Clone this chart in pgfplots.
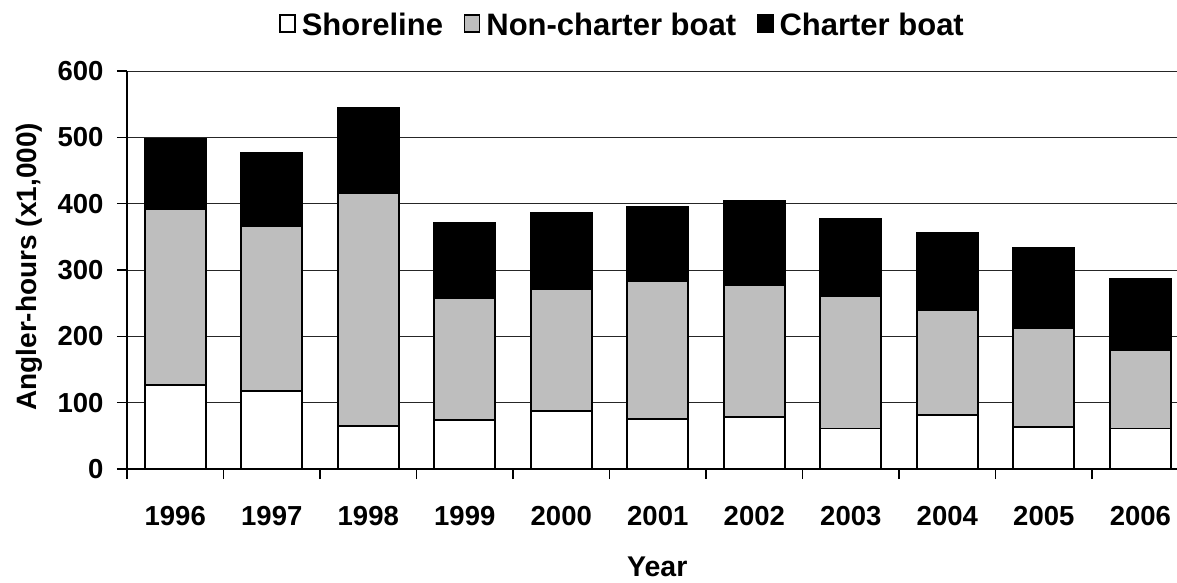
\documentclass[border=0pt]{standalone}
\usepackage{pgfplots}
\pgfplotsset{compat=1.18}
\usepackage{fontspec}
\setmainfont{Liberation Sans}
\definecolor{ncgray}{RGB}{190,190,190}
\begin{document}
\begin{tikzpicture}
\begin{axis}[
  at={(0pt,0pt)}, anchor=south west,
  scale only axis, width=1050pt, height=398pt,
  ybar stacked, bar width=61pt,
  xmin=-0.5, xmax=10.38, ymin=0, ymax=600,
  axis x line=bottom, axis y line=left,
  axis line style={-, line width=1.4pt},
  xtick={-0.5,0.5,...,9.5},
  xticklabels={},
  extra x ticks={0,...,10},
  extra x tick labels={1996,1997,1998,1999,2000,2001,2002,2003,2004,2005,2006},
  extra x tick style={major tick length=0pt},
  ytick={0,100,...,600},
  tick align=outside, major tick length=10pt,
  tick style={line width=1.2pt, black},
  ymajorgrids, grid style={line width=0.9pt, black!85},
  /pgf/number format/assume math mode=true,
  ticklabel style={font=\fontsize{27.5}{32}\selectfont\bfseries},
  xticklabel style={yshift=-34pt},
  yticklabel style={xshift=-10pt},
  ylabel={Angler-hours (x1,000)},
  ylabel style={font=\fontsize{28}{32}\selectfont\bfseries, at={(axis description cs:-0.0933,0.508)}, anchor=center},
  xlabel={Year},
  xlabel style={font=\fontsize{28.5}{32}\selectfont\bfseries, at={(axis description cs:0.505,-0.245)}, anchor=center},
  legend style={at={(axis description cs:0.472,1.1156)}, anchor=center, draw=none, fill=none,
    legend columns=3, font=\fontsize{31}{36}\selectfont\bfseries,
    /tikz/every odd column/.append style={column sep=4pt},
    /tikz/every even column/.append style={column sep=19pt}},
  legend image code/.code={\draw[#1, line width=1.4pt] (0pt,-7pt) rectangle (15pt,10pt);},
]
\addplot[fill=white, draw=black] coordinates {(0,126) (1,117.6) (2,64.3) (3,73.9) (4,88) (5,76) (6,79) (7,61) (8,82) (9,64) (10,61)};
\addplot[fill=ncgray, draw=black] coordinates {(0,266.5) (1,249.4) (2,352.3) (3,183.4) (4,184) (5,208) (6,199) (7,199) (8,158) (9,149) (10,119)};
\addplot[fill=black, draw=black] coordinates {(0,105) (1,110) (2,128) (3,113.6) (4,114) (5,111) (6,125.5) (7,117) (8,116) (9,120) (10,106)};
\legend{Shoreline,Non-charter boat,Charter boat}
\end{axis}
% outlines of the stacked segments (cumulative tops)
\begin{axis}[
  at={(0pt,0pt)}, anchor=south west,
  scale only axis, width=1050pt, height=398pt,
  ybar, bar width=61pt, bar shift=0pt,
  xmin=-0.5, xmax=10.38, ymin=0, ymax=600,
  hide axis,
]
\addplot[fill=none, draw=black, line width=1.9pt] coordinates {(0,497.5) (1,477) (2,544.6) (3,370.9) (4,386) (5,395) (6,403.5) (7,377) (8,356) (9,333) (10,286)};
\addplot[fill=none, draw=black, line width=1.9pt] coordinates {(0,392.5) (1,367) (2,416.6) (3,257.3) (4,272) (5,284) (6,278) (7,260) (8,240) (9,213) (10,180)};
\addplot[fill=none, draw=black, line width=1.9pt] coordinates {(0,126) (1,117.6) (2,64.3) (3,73.9) (4,88) (5,76) (6,79) (7,61) (8,82) (9,64) (10,61)};
\end{axis}
\pgfresetboundingbox
\useasboundingbox (-127pt,-113pt) rectangle (1050pt,469pt);
\end{tikzpicture}
\end{document}
